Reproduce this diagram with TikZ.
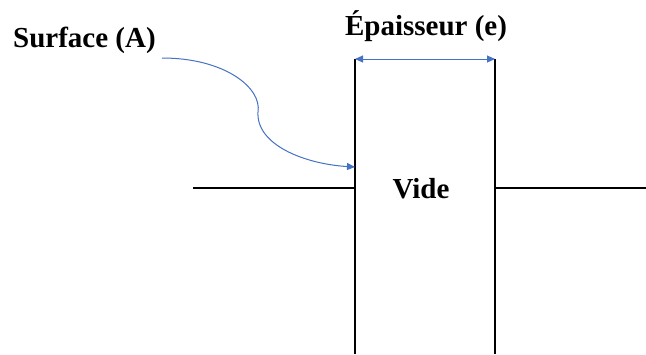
\documentclass[tikz,border=0pt]{standalone}
\usepackage{fontspec}
\setmainfont{Liberation Serif}
\usepackage{tikz}
\usetikzlibrary{arrows.meta}
\definecolor{wordblue}{RGB}{68,114,196}

\begin{document}
\begin{tikzpicture}[x=1pt, y=-1pt, every node/.style={font=\fontsize{29}{32}\selectfont\bfseries, inner sep=0pt},
    wall/.style={line width=1.2pt, draw=black},
    bluearrow/.style={line width=1pt, draw=wordblue, >={Triangle[length=8pt, width=7pt]}}]
\useasboundingbox (0,0) rectangle (646,354);

% ---------------- Walls and Ground ----------------
\coordinate (LT) at (355, 59);  \coordinate (LB) at (355, 354);
\coordinate (RT) at (495, 59);  \coordinate (RB) at (495, 354);
\coordinate (GL) at (193, 188); \coordinate (GR) at (646, 188);

\draw[wall] (LT) -- (LB);
\draw[wall] (RT) -- (RB);
\draw[wall] (GL) -- (LT |- GL);
\draw[wall] (RT |- GR) -- (GR);

% ---------------- Labels ----------------
\node[anchor=base west] (surf) at (13, 47) {Surface (A)};
\node[anchor=base] (epais) at (426, 35) {Épaisseur (e)};
\node[anchor=base] (vide) at (421, 198) {Vide};

% ---------------- Blue Arrows ----------------
\coordinate (S0) at (162, 58);
\coordinate (S1) at (355, 167);
\draw[bluearrow, <->] (LT) -- (RT);
\draw[bluearrow, ->] (S0) .. controls (225, 58) and (262, 88) .. (258, 112)
    .. controls (256, 145) and (305, 164) .. (S1);

\end{tikzpicture}
\end{document}
